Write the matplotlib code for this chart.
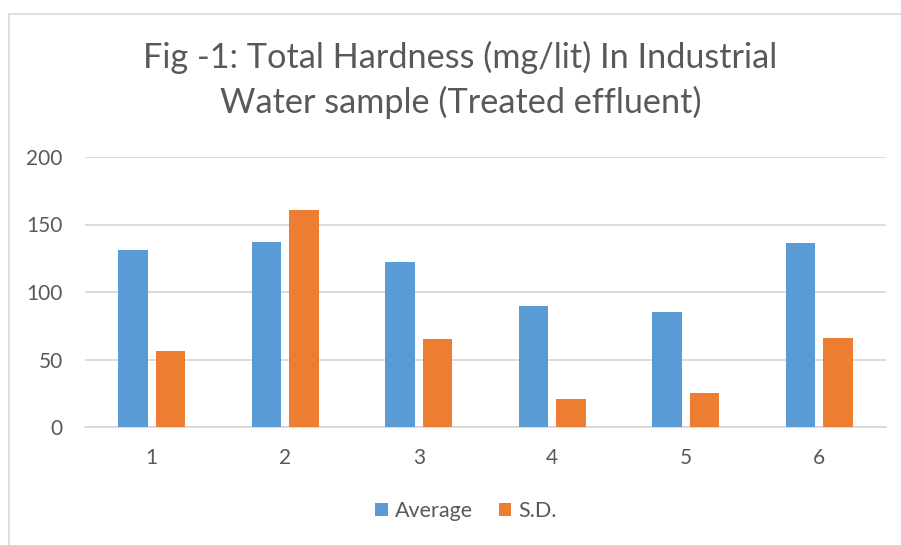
import matplotlib.pyplot as plt
import numpy as np
from matplotlib.patches import Rectangle

# data
samples = ['1', '2', '3', '4', '5', '6']
average = [131, 137, 122, 90, 85, 136]
sd = [56, 161, 65, 21, 25, 66]

plt.rcParams['font.family'] = ['Lato', 'DejaVu Sans']
text_col = '#595959'
grid_col = '#D9D9D9'

fig = plt.figure(figsize=(9.01, 5.45), dpi=100)

# chart area border (cut off at right/bottom like the reference)
fig.patches.append(Rectangle((8.5 / 901, -0.1), 1.0, 1 - 14 / 545 + 0.1,
                             transform=fig.transFigure, fill=False,
                             edgecolor=grid_col, linewidth=1.2))

ax = fig.add_axes([85 / 901, 1 - 427 / 545, 801 / 901, 270 / 545])
x = np.arange(1, len(samples) + 1)
w = 0.22
ax.bar(x - 0.14, average, w, color='#5B9BD5', label='Average', zorder=3)
ax.bar(x + 0.14, sd, w, color='#ED7D31', label='S.D.', zorder=3)

ax.set_xlim(0.5, 6.5)
ax.set_ylim(0, 200)
ax.set_yticks([0, 50, 100, 150, 200])
ax.set_xticks(x)
ax.set_xticklabels(samples)
ax.yaxis.grid(True, color=grid_col, linewidth=1.3, zorder=0)
ax.set_axisbelow(True)
for s in ['top', 'right', 'left']:
    ax.spines[s].set_visible(False)
ax.spines['bottom'].set_color(grid_col)
ax.spines['bottom'].set_linewidth(1.3)
ax.tick_params(axis='both', length=0, labelsize=15, colors=text_col)
ax.tick_params(axis='x', pad=15)
ax.tick_params(axis='y', pad=16)

fig.text(0.511, 1 - 80 / 545, 'Fig -1: Total Hardness (mg/lit) In Industrial\nWater sample (Treated effluent)',
         ha='center', va='center', fontsize=24.7, color=text_col, linespacing=1.45)

ax.legend(loc='center', bbox_to_anchor=(0.517, 1 - 511 / 545), bbox_transform=fig.transFigure,
          ncol=2, frameon=False, fontsize=15.5, labelcolor=text_col,
          handlelength=0.6, handleheight=0.6, handletextpad=0.3, columnspacing=1.2)

plt.savefig('out.png', dpi=100)
